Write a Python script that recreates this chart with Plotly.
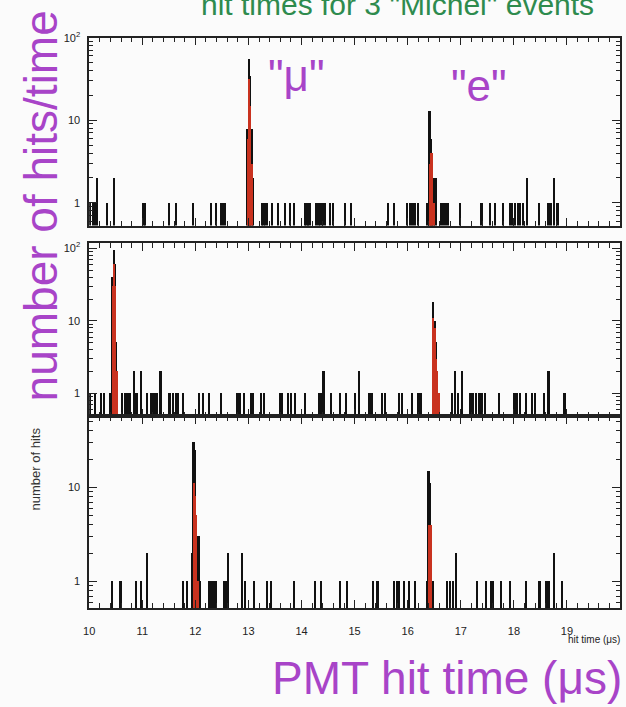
import plotly.graph_objects as go

W, H = 626, 707

# ---------------- data (hit time in microseconds, number of hits) ----------------
# Panel 1 (top)
p1_times_1 = [10.03, 10.08, 10.12, 10.34, 11.03, 11.06, 11.51, 11.65, 11.96, 12.30, 12.39, 12.49,
              12.53, 12.57, 13.26, 13.29, 13.32, 13.36, 13.45, 13.56, 13.69, 13.79, 13.87, 14.07,
              14.10, 14.13, 14.16, 14.29, 14.33, 14.36, 14.40, 14.44, 14.55, 14.60, 14.82, 14.94,
              15.63, 15.75, 16.00, 16.05, 16.10, 16.15, 16.20, 16.37, 16.63, 16.68, 16.72, 16.77,
              17.00, 17.40, 17.56, 17.65, 17.80, 17.93, 17.98, 18.03, 18.08, 18.13, 18.18, 18.48,
              18.66, 18.71, 18.83]
p1_times_2 = [10.15, 10.47, 18.25, 18.77]
p1_peak_times = [12.99, 13.015, 13.04, 13.065, 13.09, 16.42, 16.445, 16.47, 16.495, 16.53]
p1_peak_counts = [8, 55, 35, 8, 2, 13, 6, 4, 2, 2]
p1_red_times = [12.99, 13.015, 13.04, 13.065, 16.42, 16.445, 16.47, 16.495]
p1_red_counts = [6, 32, 15, 3, 3, 4, 4, 1]

# Panel 2 (middle)
p2_times_1 = [10.03, 10.12, 10.23, 10.28, 10.40, 10.62, 10.69, 10.73, 10.77, 10.90, 11.09, 11.18,
              11.24, 11.29, 11.52, 11.59, 11.65, 11.68, 11.78, 12.08, 12.15, 12.27, 12.49, 12.80,
              12.85, 12.92, 13.05, 13.09, 13.25, 13.30, 13.61, 13.64, 13.75, 13.81, 13.89, 14.07,
              14.33, 14.37, 14.57, 14.73, 14.85, 15.01, 15.29, 15.33, 15.53, 15.58, 15.85, 15.90,
              16.09, 16.20, 16.25, 16.84, 16.95, 17.19, 17.24, 17.30, 17.35, 17.40, 17.46, 17.73,
              18.02, 18.07, 18.12, 18.23, 18.35, 18.41, 18.58, 18.96]
p2_times_2 = [10.85, 10.98, 11.35, 14.42, 15.09, 16.90, 17.03, 18.66]
p2_peak_times = [10.445, 10.47, 10.495, 10.52, 16.49, 16.515, 16.54, 16.565, 16.59]
p2_peak_counts = [40, 95, 60, 5, 18, 10, 5, 2, 1]
p2_red_times = [10.445, 10.47, 10.495, 10.52, 16.49, 16.515, 16.54, 16.565, 16.59]
p2_red_counts = [30, 60, 30, 2, 11, 8, 3, 2, 1]

# Panel 3 (bottom)
p3_times_1 = [10.44, 10.60, 10.89, 10.98, 11.77, 11.85, 12.27, 12.31, 12.35, 12.40, 12.55, 12.59,
              12.95, 13.11, 13.36, 13.44, 13.86, 14.26, 14.37, 14.74, 14.87, 15.35, 15.44, 15.75,
              15.80, 15.85, 15.94, 16.03, 16.14, 16.37, 16.75, 16.81, 16.86, 17.31, 17.49, 17.57,
              17.62, 17.77, 17.93, 18.23, 18.49, 18.61, 18.66, 18.92]
p3_times_2 = [11.10, 12.63, 12.88, 16.92, 18.77]
p3_peak_times = [11.95, 11.975, 12.0, 12.025, 12.05, 12.075, 12.10, 16.40, 16.425, 16.45, 16.475]
p3_peak_counts = [2, 30, 25, 5, 3, 3, 1, 15, 11, 4, 1]
p3_red_times = [11.975, 12.0, 12.025, 12.05, 16.40, 16.425, 16.45]
p3_red_counts = [11, 8, 5, 1, 4, 4, 4]

x_tick_vals = [10, 11, 12, 13, 14, 15, 16, 17, 18, 19, 20]
x_tick_text = ["10", "11", "12", "13", "14", "15", "16", "17", "18", "19", "20"]
y_tick_vals = [1, 10, 100]
y_tick_text = ["1", "10", "10<sup>2</sup>"]

panels = [
    (p1_times_1, p1_times_2, p1_peak_times, p1_peak_counts, p1_red_times, p1_red_counts),
    (p2_times_1, p2_times_2, p2_peak_times, p2_peak_counts, p2_red_times, p2_red_counts),
    (p3_times_1, p3_times_2, p3_peak_times, p3_peak_counts, p3_red_times, p3_red_counts),
]

# ---------------- layout helpers ----------------
def fx(p):
    return p / W

def fy(p):
    return 1 - p / H

# panel pixel extents (top, bottom) and log-range
panel_px = [(30, 220), (238, 413), (413, 607)]
panel_range = [[-0.276, 2.0], [-0.313, 2.068], [-0.284, 1.758]]
x_dom = [fx(84), fx(620)]

BIN = 0.025
BLACK = "#111111"
RED = "#c9321f"
PURPLE = "#a844c8"
GREEN = "#2e8b4e"
FONT = "Liberation Sans, Arial, Helvetica, sans-serif"

fig = go.Figure()
for i, (t1, t2, pt, pc, rt, rc) in enumerate(panels, start=1):
    xs = t1 + t2 + pt
    ys = [1] * len(t1) + [2] * len(t2) + pc
    xa = "x" if i == 1 else f"x{i}"
    ya = "y" if i == 1 else f"y{i}"
    fig.add_trace(go.Bar(x=xs, y=ys, width=BIN * 1.3, marker=dict(color=BLACK, line=dict(width=0)),
                         xaxis=xa, yaxis=ya, showlegend=False, hoverinfo="skip"))
    fig.add_trace(go.Bar(x=rt, y=rc, width=BIN * 0.9, marker=dict(color=RED, line=dict(width=0)),
                         xaxis=xa, yaxis=ya, showlegend=False, hoverinfo="skip"))

axis_common = dict(showline=True, linecolor="#222", linewidth=1.6, showgrid=False, zeroline=False)

for i in range(1, 4):
    top, bot = panel_px[i - 1]
    ykey = "yaxis" if i == 1 else f"yaxis{i}"
    xkey = "xaxis" if i == 1 else f"xaxis{i}"
    ya = "y" if i == 1 else f"y{i}"
    fig.update_layout({
        xkey: dict(
            domain=x_dom, anchor=ya, range=[10, 20],
            tickvals=x_tick_vals, ticktext=x_tick_text,
            showticklabels=(i == 3),
            ticks="inside", ticklen=8, tickwidth=1.3, tickcolor="#222",
            minor=dict(ticks="inside", ticklen=5, dtick=0.2, tickcolor="#222", tickwidth=1.2),
            mirror="ticks", ticklabelstandoff=12,
            tickfont=dict(size=11, color="#222", family=FONT),
            **axis_common,
            **({} if i == 1 else dict(matches="x")),
        ),
        ykey: dict(
            domain=[fy(bot), fy(top)], anchor="x" if i == 1 else f"x{i}",
            type="log", range=panel_range[i - 1],
            tickvals=y_tick_vals, ticktext=y_tick_text,
            ticks="inside", ticklen=8, tickwidth=1.3, tickcolor="#222",
            minor=dict(ticks="inside", ticklen=4, tickcolor="#222", tickwidth=1, dtick="D1"),
            mirror="ticks", ticklabelstandoff=5,
            tickfont=dict(size=11, color="#222", family=FONT),
            **axis_common,
        ),
    })

annotations = [
    dict(text='hit times for 3 "Michel" events', x=fx(395), y=fy(-4), xref="paper", yref="paper",
         showarrow=False, font=dict(size=30, color=GREEN, family=FONT), xanchor="center", yanchor="middle"),
    dict(text="number of hits/time", x=fx(35), y=fy(200), xref="paper", yref="paper",
         showarrow=False, textangle=-90, font=dict(size=46, color=PURPLE, family=FONT),
         xanchor="center", yanchor="middle"),
    dict(text='"μ"', x=fx(293), y=fy(68), xref="paper", yref="paper", showarrow=False,
         font=dict(size=44, color=PURPLE, family=FONT), xanchor="center", yanchor="middle"),
    dict(text='"e"', x=fx(478), y=fy(78), xref="paper", yref="paper", showarrow=False,
         font=dict(size=44, color=PURPLE, family=FONT), xanchor="center", yanchor="middle"),
    dict(text="PMT hit time (μs)", x=fx(445), y=fy(678), xref="paper", yref="paper", showarrow=False,
         font=dict(size=46, color=PURPLE, family=FONT), xanchor="center", yanchor="middle"),
    dict(text="hit time (μs)", x=fx(594), y=fy(639), xref="paper", yref="paper", showarrow=False,
         font=dict(size=10, color="#222", family=FONT), xanchor="center", yanchor="middle"),
    dict(text="number of hits", x=fx(30), y=fy(466), xref="paper", yref="paper", showarrow=False,
         textangle=-90, font=dict(size=13, color="#333", family=FONT), xanchor="center", yanchor="middle"),
]

fig.update_layout(
    width=W, height=H, margin=dict(l=0, r=0, t=0, b=0),
    paper_bgcolor="#fbfbfb", plot_bgcolor="#fbfbfb",
    barmode="overlay", bargap=0, showlegend=False,
    annotations=annotations,
)

fig.write_html(
    "out.html",
    config={"displayModeBar": False},
    post_script="document.body.style.margin='0';document.body.style.overflow='hidden';",
)
